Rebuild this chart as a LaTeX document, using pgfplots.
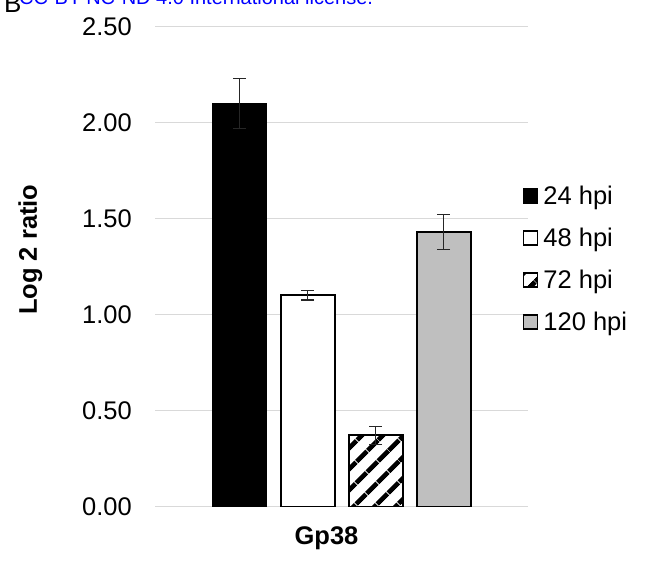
\documentclass[border=0pt]{standalone}
\usepackage{fontspec}
\setmainfont{Liberation Sans}
\usepackage{pgfplots}
\pgfplotsset{compat=1.18}
\usetikzlibrary{patterns.meta}
\definecolor{gridgray}{HTML}{D9D9D9}
\definecolor{bargray}{HTML}{BFBFBF}
\newcommand{\chartfont}{\fontsize{25.5bp}{30bp}\selectfont}
\pgfplotsset{errs/.style={error bars/.cd, y dir=both, y explicit,
  error bar style={line width=1.4bp, black!85},
  error mark options={rotate=90, mark size=6.5bp, line width=1.4bp, black!85}}}
\begin{document}
\begin{tikzpicture}
\useasboundingbox (0bp,0bp) rectangle (649bp,-562bp);
\node[anchor=base west, font=\fontsize{26bp}{30bp}\selectfont, inner sep=0] at (4bp,-12bp) {B};
\node[anchor=base west, text=blue, font=\fontsize{20bp}{24bp}\selectfont, inner sep=0] at (19bp,-4bp) {CC-BY-NC-ND 4.0 International license.};
\begin{axis}[
  at={(155bp,-506.5bp)}, anchor=south west,
  scale only axis, width=373bp, height=479.8bp,
  ymin=0, ymax=2.5, xmin=-1, xmax=1,
  ytick={0,0.5,1,1.5,2,2.5},
  ymajorgrids, grid style={draw=gridgray, line width=1.5bp},
  axis line style={draw=none}, major tick length=0pt,
  xtick={0}, xticklabels={\bfseries Gp38},
  xticklabel style={anchor=base, yshift=-37.5bp, xshift=-15bp, font=\chartfont},
  yticklabel style={anchor=east, inner sep=0pt, xshift=-23bp, font=\chartfont,
    /pgf/number format/.cd, fixed, fixed zerofill, precision=2, assume math mode=true},
  ylabel={\bfseries Log 2 ratio},
  ylabel style={at={(axis description cs:-0.334,0.535)}, anchor=center, font=\chartfont},
  ybar=14bp, bar width=54bp,
  legend style={at={(axis description cs:0.9866,0.518)}, anchor=west, draw=none, fill=none,
    font=\chartfont, inner sep=0pt, row sep=23.5bp,
    nodes={inner sep=0pt, text height=18.5bp, text depth=0pt}},
  legend cell align=left,
  legend image code/.code={\draw[#1, line width=1.2bp] (0bp,-8bp) rectangle (14bp,6bp);},
]
\addplot[fill=black, draw=black, line width=1bp, errs] coordinates {(0,2.10) +- (0,0.13)};
\addlegendentry{\hspace{5bp}24 hpi}
\addplot[fill=white, draw=black, line width=2bp, errs] coordinates {(0,1.10) +- (0,0.025)};
\addlegendentry{\hspace{5bp}48 hpi}
\addplot[draw=black, line width=2bp, pattern={Lines[angle=45,distance=15bp,line width=5bp]}, pattern color=black, errs] coordinates {(0,0.37) +- (0,0.047)};
\addlegendentry{\hspace{5bp}72 hpi}
\addplot[fill=bargray, draw=black, line width=2bp, errs] coordinates {(0,1.43) +- (0,0.09)};
\addlegendentry{\hspace{5bp}120 hpi}
\end{axis}
\end{tikzpicture}
\end{document}
